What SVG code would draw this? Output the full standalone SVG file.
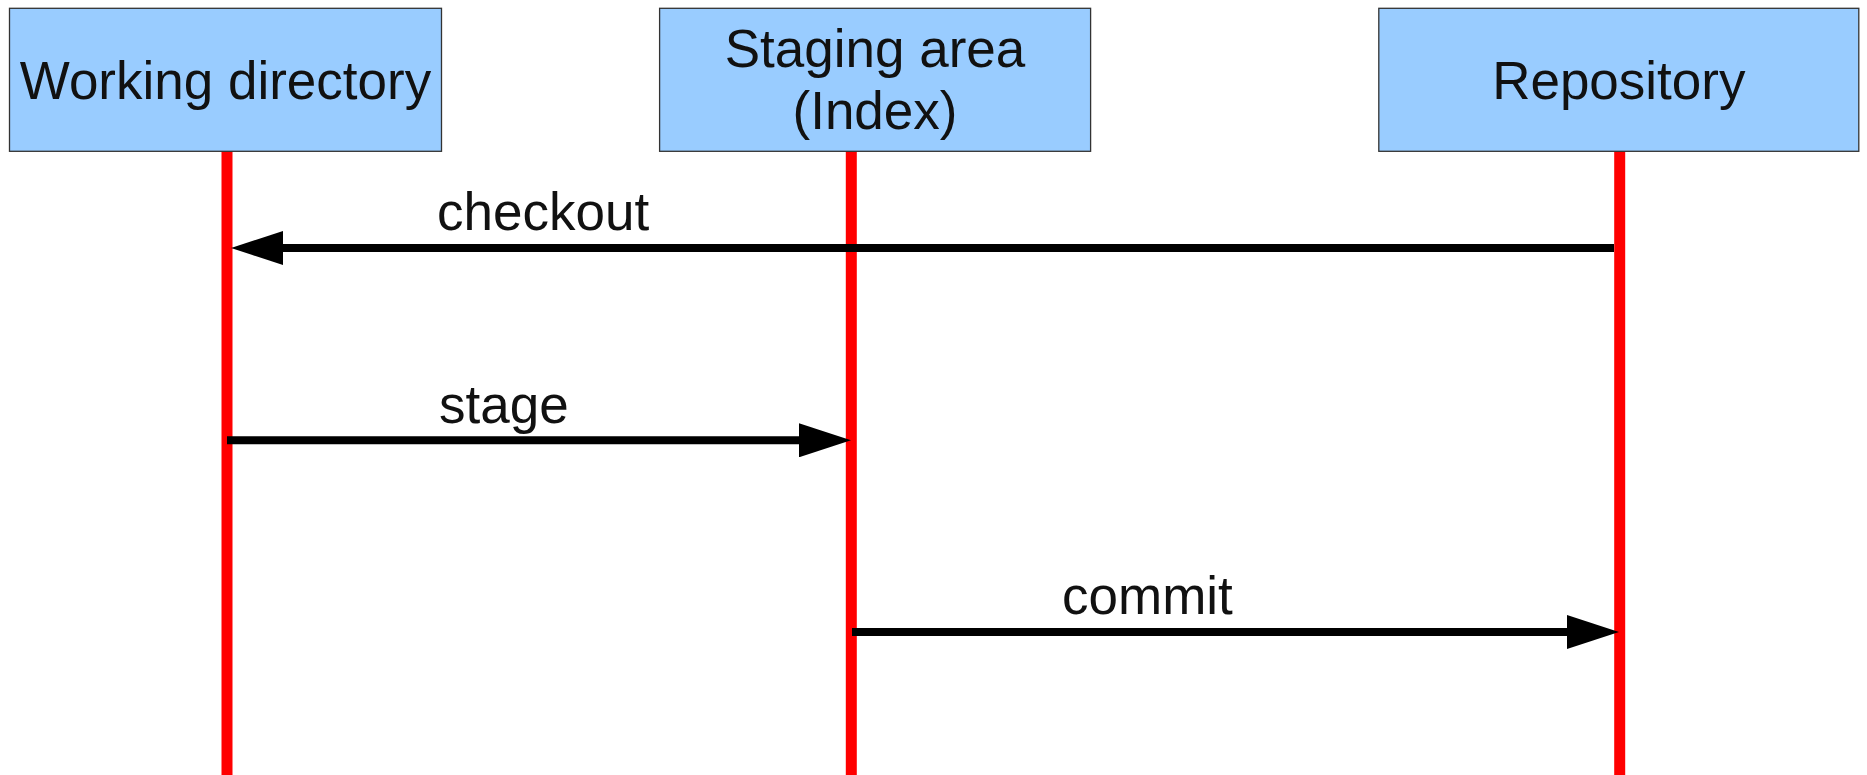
<svg xmlns="http://www.w3.org/2000/svg" width="1867" height="775" viewBox="0 0 1867 775">
<style>
.box{fill:#99ccff;stroke:#333;stroke-width:1.3}
.life{stroke:#ff0000;stroke-width:11;fill:none}
.msg{stroke:#000;stroke-width:8;fill:none}
text{font-family:"Liberation Sans",Arial,sans-serif;font-size:53px;fill:#111}
.c{text-anchor:middle}
</style>
<defs>
<marker id="ah" viewBox="0 0 52 34" refX="0" refY="17" markerWidth="52" markerHeight="34" markerUnits="userSpaceOnUse" orient="auto">
<path d="M0,0 L52,17 L0,34 z" fill="#000"/>
</marker>
</defs>
<rect width="1867" height="775" fill="#fff"/>
<g id="lifelines">
<line class="life" x1="227" y1="151" x2="227" y2="775"/>
<line class="life" x1="851.3" y1="151" x2="851.3" y2="775"/>
<line class="life" x1="1619.7" y1="151" x2="1619.7" y2="775"/>
</g>
<g id="node-working">
<rect class="box" x="9.5" y="8.3" width="432" height="143"/>
<text class="c" x="225.5" y="98.5">Working directory</text>
</g>
<g id="node-staging">
<rect class="box" x="659.6" y="8.3" width="431" height="143"/>
<text class="c" x="875" y="67">Staging area</text>
<text class="c" x="875" y="129">(Index)</text>
</g>
<g id="node-repository">
<rect class="box" x="1378.8" y="8.3" width="480" height="143"/>
<text class="c" x="1618.8" y="98.5">Repository</text>
</g>
<g id="connectors">
<line class="msg" x1="1614" y1="248" x2="283" y2="248" marker-end="url(#ah)"/>
<text x="437" y="229.5">checkout</text>
<line class="msg" x1="227" y1="440.3" x2="799" y2="440.3" marker-end="url(#ah)"/>
<text x="439" y="422.5">stage</text>
<line class="msg" x1="852" y1="632" x2="1567" y2="632" marker-end="url(#ah)"/>
<text x="1062" y="614">commit</text>
</g>
</svg>
